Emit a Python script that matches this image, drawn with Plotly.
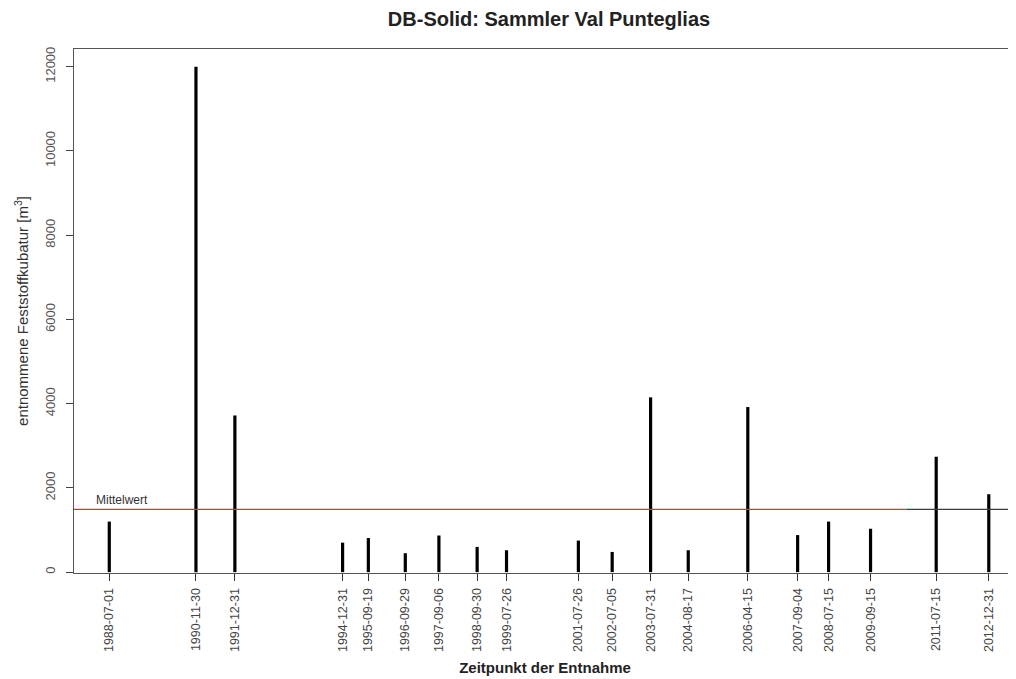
import plotly.graph_objects as go

dates = ["1988-07-01", "1990-11-30", "1991-12-31", "1994-12-31", "1995-09-19",
         "1996-09-29", "1997-09-06", "1998-09-30", "1999-07-26", "2001-07-26",
         "2002-07-05", "2003-07-31", "2004-08-17", "2006-04-15", "2007-09-04",
         "2008-07-15", "2009-09-15", "2011-07-15", "2012-12-31"]
volumes = [1200, 12000, 3720, 700, 810, 450, 870, 600, 520, 750,
           480, 4150, 520, 3920, 880, 1200, 1030, 2740, 1850]
mean_value = 1490
y_ticks = [0, 2000, 4000, 6000, 8000, 10000, 12000]

# build vertical "h"-type lines
xs, ys = [], []
for d, v in zip(dates, volumes):
    xs += [d, d, None]
    ys += [0, v, None]

fig = go.Figure()
fig.add_trace(go.Scatter(x=xs, y=ys, mode="lines",
                         line=dict(color="black", width=3.2),
                         hoverinfo="skip", showlegend=False))

fig.add_shape(type="line", xref="paper", yref="y", x0=0, x1=0.884,
              y0=mean_value, y1=mean_value,
              line=dict(color="rgb(200,60,60)", width=1.3))
fig.add_shape(type="line", xref="paper", yref="y", x0=0.884, x1=1,
              y0=mean_value, y1=mean_value,
              line=dict(color="rgb(60,60,60)", width=1.3))

fig.add_annotation(text="Mittelwert", xref="paper", yref="y", x=0.021, y=mean_value,
                   xanchor="left", yanchor="bottom", showarrow=False, yshift=0,
                   font=dict(family="Liberation Sans, Arial", size=12, color="#333"))

fig.update_layout(
    width=1016, height=679,
    margin=dict(l=66, r=8, t=41, b=114),
    plot_bgcolor="white", paper_bgcolor="white",
    title=dict(text="<b>DB-Solid: Sammler Val Punteglias</b>", x=541/1016, xanchor="center",
               y=1 - 11/679, yanchor="middle",
               font=dict(family="Liberation Sans, Arial", size=20, color="#222")),
    xaxis=dict(type="date", range=["1987-07-08", "2013-10-04"], automargin=False,
               tickmode="array", tickvals=dates, ticktext=dates,
               tickangle=-90, ticks="outside", ticklen=7, tickcolor="#333",
               showline=True, linecolor="#555", linewidth=1.2, mirror=True,
               showgrid=False, zeroline=False, ticklabelstandoff=2,
               tickfont=dict(family="Liberation Sans, Arial", size=12.5, color="#444"),
               title=dict(text="<b>Zeitpunkt der Entnahme</b>", standoff=11,
                          font=dict(family="Liberation Sans, Arial", size=15, color="#222"))),
    yaxis=dict(range=[-20, 12420], tickmode="array", tickvals=y_ticks, automargin=False,
               ticktext=[str(t) for t in y_ticks],
               tickangle=-90, ticks="outside", ticklen=7, tickcolor="#444",
               showline=True, linecolor="#555", linewidth=1.2, mirror=False,
               showgrid=False, zeroline=False, ticklabelstandoff=6,
               tickfont=dict(family="Liberation Sans, Arial", size=13, color="#555"),
               title=dict(text="entnommene Feststoffkubatur [m<sup>3</sup>]", standoff=10,
                          font=dict(family="Liberation Sans, Arial", size=15, color="#333"))),
)

fig.write_html("out.html")
